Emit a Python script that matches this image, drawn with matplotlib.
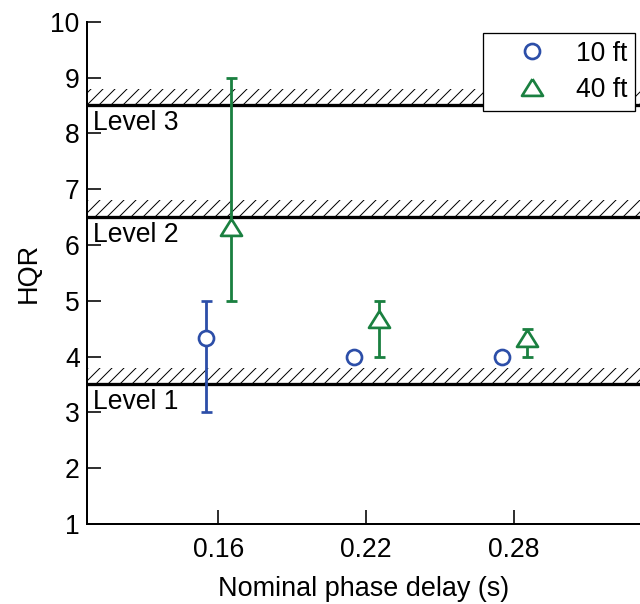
import numpy as np
import matplotlib
matplotlib.use("Agg")
import matplotlib.pyplot as plt
from matplotlib.lines import Line2D

plt.rcParams["font.family"] = ["Liberation Sans", "DejaVu Sans"]
plt.rcParams["hatch.linewidth"] = 1.0

# data
x_10ft = [0.155, 0.215, 0.275]
y_10ft = [4.33, 4.0, 4.0]
lo_10ft = [3.0, 4.0, 4.0]
hi_10ft = [5.0, 4.0, 4.0]

x_40ft = [0.165, 0.225, 0.285]
y_40ft = [6.33, 4.67, 4.33]
lo_40ft = [5.0, 4.0, 4.0]
hi_40ft = [9.0, 5.0, 4.5]

levels = [3.5, 6.5, 8.5]
level_names = ["Level 1", "Level 2", "Level 3"]
xticks = [0.16, 0.22, 0.28]
xticklabels = ["0.16", "0.22", "0.28"]
yticks = [1, 2, 3, 4, 5, 6, 7, 8, 9, 10]

blue = "#2c4ea8"
green = "#1a8040"
tri = [(0, 0.8), (-1, -0.8), (1, -0.8), (0, 0.8)]
fs = 26.5

dpi = 72
fig = plt.figure(figsize=(640 / dpi, 604 / dpi), dpi=dpi)
ax = fig.add_axes([86.7 / 640, 80 / 604, 1 - 86.7 / 640, 502.3 / 604])

xlim = (0.10665, 0.331)
ax.set_xlim(xlim)
ax.set_ylim(1, 10)

# handling quality levels: thick line with hatched band on top
for lv, name in zip(levels, level_names):
    ax.fill_between(xlim, lv, lv + 0.3, facecolor="none", edgecolor="black",
                    hatch="//", linewidth=0, zorder=1)
    ax.axhline(lv, color="black", lw=3.3, zorder=2)
    ax.text(xlim[0] + 0.0026, lv - 0.08, name, fontsize=fs, va="top",
            ha="left", zorder=3)

def err(y, lo, hi):
    y = np.array(y)
    return [y - np.array(lo), np.array(hi) - y]

ax.errorbar(x_10ft, y_10ft, yerr=err(y_10ft, lo_10ft, hi_10ft), fmt="o",
            color=blue, mfc="white", mec=blue, mew=2.7, ms=15, elinewidth=2.8,
            capsize=5.5, capthick=2.8, zorder=4)
ax.errorbar(x_40ft, y_40ft, yerr=err(y_40ft, lo_40ft, hi_40ft), fmt="none",
            ecolor=green, elinewidth=2.8, capsize=5.5, capthick=2.8, zorder=4)
ax.plot(x_40ft, y_40ft, ls="none", marker=tri, ms=21, mfc="white",
        mec=green, mew=2.7, zorder=5)

ax.set_xticks(xticks)
ax.set_xticklabels(xticklabels)
ax.set_yticks(yticks)
ax.tick_params(direction="in", length=14, width=1.6, labelsize=fs)
ax.tick_params(axis="x", pad=13)
ax.tick_params(axis="y", pad=7)
ax.spines["top"].set_visible(False)
ax.spines["right"].set_visible(False)
ax.spines["left"].set_linewidth(2)
ax.spines["bottom"].set_linewidth(2)

ax.set_xlabel("Nominal phase delay (s)", fontsize=27, labelpad=13)
ax.set_ylabel("HQR", fontsize=27, labelpad=9)

handles = [
    Line2D([], [], ls="none", marker="o", ms=15, mfc="white", mec=blue, mew=2.7),
    Line2D([], [], ls="none", marker=tri, ms=21, mfc="white", mec=green, mew=2.7),
]
leg = ax.legend(handles, ["10 ft", "40 ft"], loc="upper right",
                bbox_to_anchor=(0.991, 0.978), borderaxespad=0, fontsize=fs,
                frameon=True, fancybox=False, edgecolor="black", framealpha=1,
                handlelength=3.1, handletextpad=0.1, labelspacing=0.38,
                borderpad=0.3)
leg.get_frame().set_linewidth(1.3)

fig.savefig("out.png", dpi=dpi)
